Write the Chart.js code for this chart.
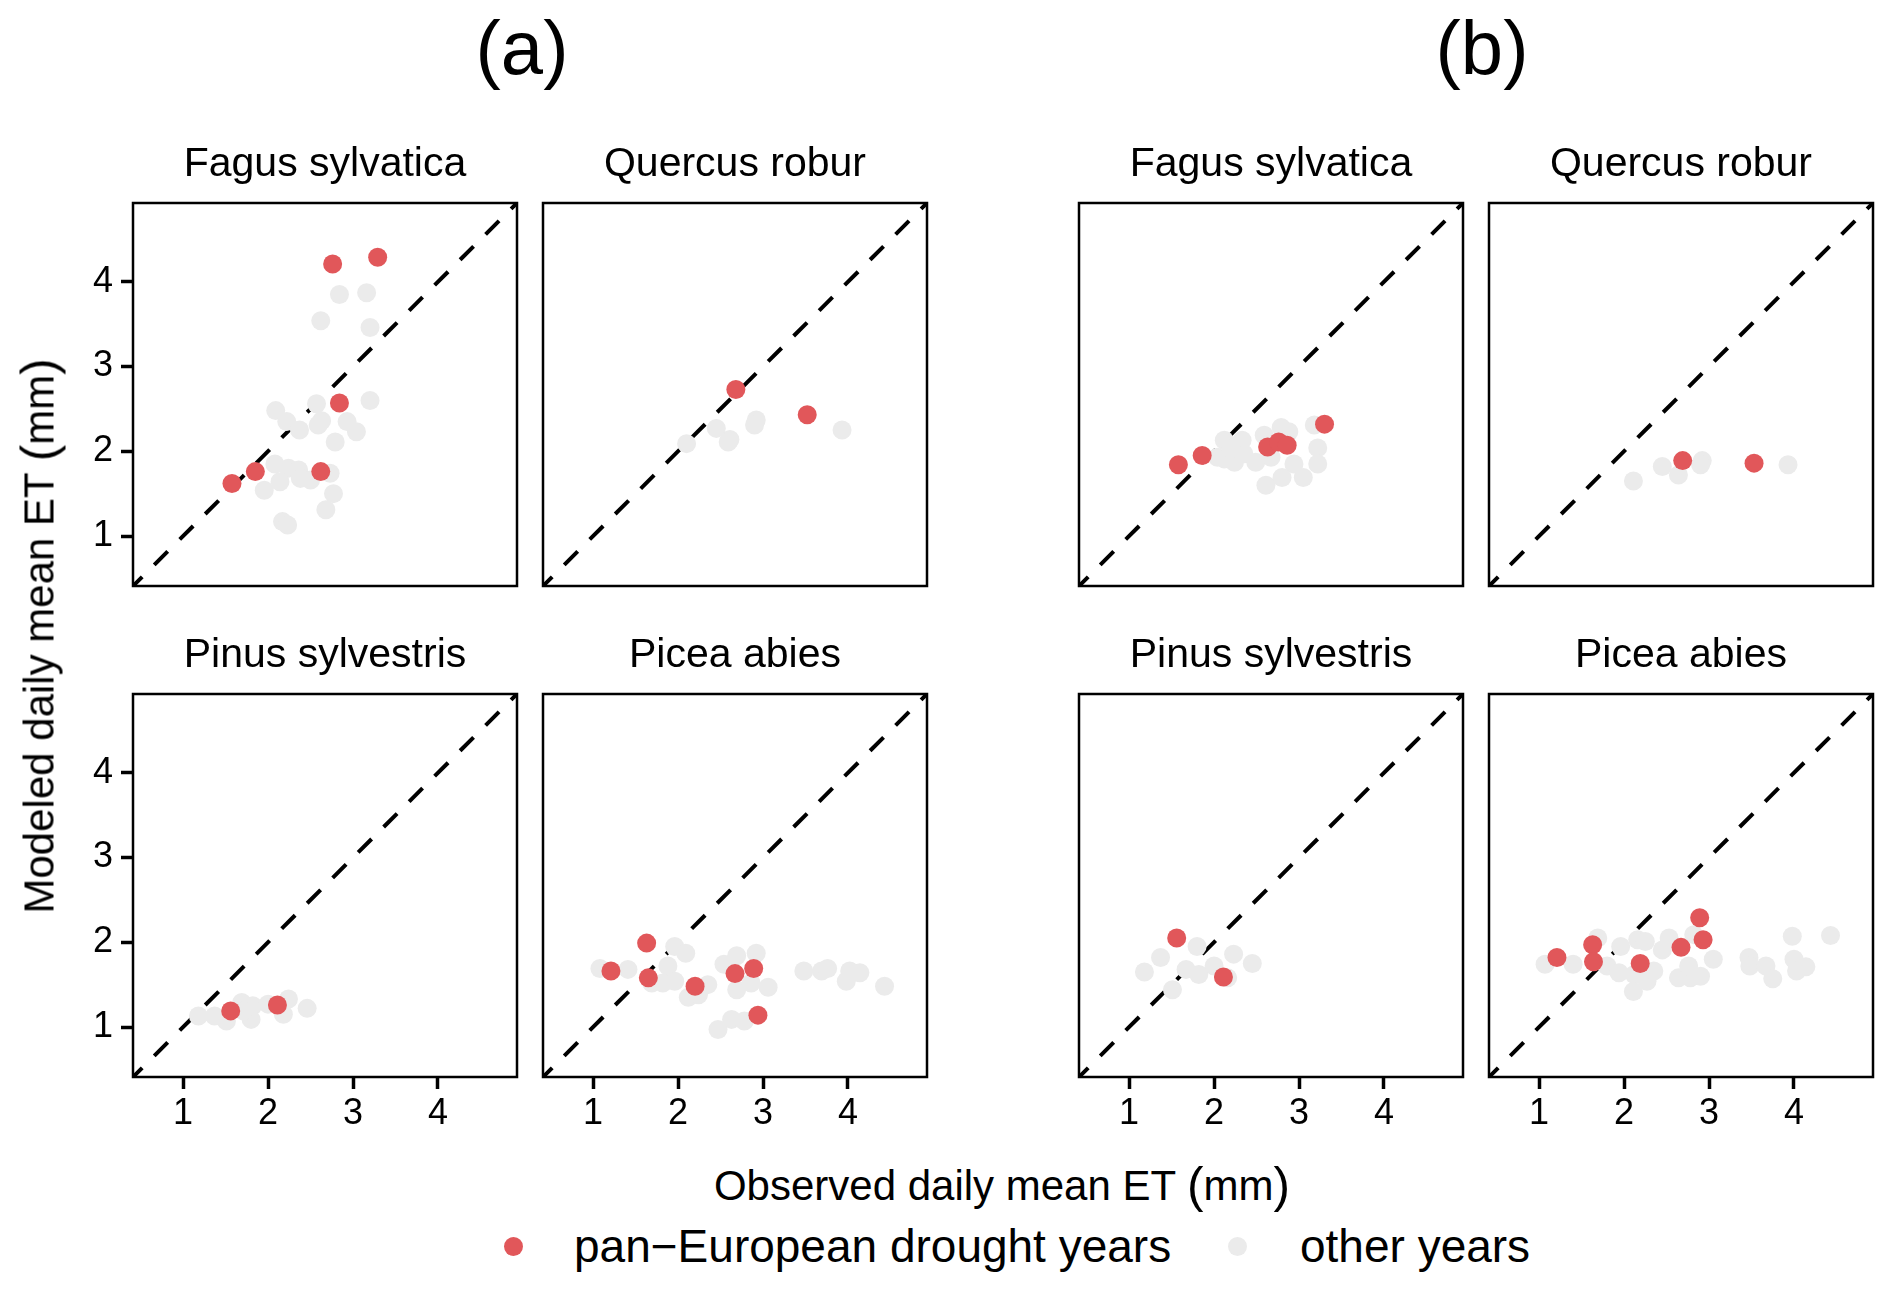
<!DOCTYPE html>
<html><head><meta charset="utf-8">
<script src="https://cdn.jsdelivr.net/npm/chart.js@4.4.1/dist/chart.umd.min.js"></script>
<style>
html,body{margin:0;padding:0;background:#fff;}
body{width:1892px;height:1293px;position:relative;overflow:hidden;font-family:"Liberation Sans",Arial,Helvetica,sans-serif;color:#000;}
canvas{position:absolute;}
.t{position:absolute;white-space:nowrap;}
.par{font-size:1.18em;position:relative;top:0.04em;}
.dot{position:absolute;border-radius:50%;}
</style></head><body>
<script>
// ---------- labels ----------
const groupLabels = ["(a)", "(b)"];
const speciesNames = ["Fagus sylvatica", "Quercus robur", "Pinus sylvestris", "Picea abies"];
const tickValues = [1, 2, 3, 4];
const xTitle = "Observed daily mean ET";
const yTitle = "Modeled daily mean ET";
const unitText = "mm";
const legendLabels = ["pan\u2212European drought years", "other years"];
const axisRange = [0.41, 4.93];

// ---------- data: (a) ----------
const aFagusDroughtObs = [1.575, 1.85, 2.62, 2.84, 2.76, 3.29];
const aFagusDroughtMod = [1.62, 1.76, 1.76, 2.57, 4.21, 4.29];
const aFagusOtherObs = [2.84, 3.16, 2.62, 3.20, 3.20, 2.57, 2.09, 2.22, 2.37, 2.63, 2.59, 2.93, 3.04, 2.79, 2.08, 2.24, 2.36, 2.38, 2.50, 2.14, 2.73, 1.955, 2.77, 2.68, 2.17, 2.23];
const aFagusOtherMod = [3.85, 3.87, 3.54, 3.46, 2.60, 2.56, 2.48, 2.35, 2.25, 2.36, 2.31, 2.35, 2.23, 2.11, 1.85, 1.80, 1.78, 1.68, 1.66, 1.64, 1.74, 1.54, 1.50, 1.31, 1.17, 1.13];

const aQuercusDroughtObs = [2.68, 3.52];
const aQuercusDroughtMod = [2.73, 2.43];
const aQuercusOtherObs = [2.10, 2.45, 2.61, 2.59, 2.92, 2.90, 3.93];
const aQuercusOtherMod = [2.09, 2.27, 2.14, 2.11, 2.37, 2.31, 2.25];

const aPinusDroughtObs = [1.56, 2.11];
const aPinusDroughtMod = [1.19, 1.26];
const aPinusOtherObs = [1.18, 1.37, 1.51, 1.69, 1.82, 1.80, 2.00, 2.24, 2.18, 2.46, 1.71];
const aPinusOtherMod = [1.13, 1.13, 1.07, 1.29, 1.25, 1.09, 1.27, 1.33, 1.15, 1.22, 1.19];

const aPiceaDroughtObs = [1.63, 1.21, 1.65, 2.20, 2.67, 2.89, 2.94];
const aPiceaDroughtMod = [1.99, 1.66, 1.58, 1.48, 1.63, 1.69, 1.14];
const aPiceaOtherObs = [1.08, 1.41, 1.96, 2.09, 1.88, 1.82, 1.96, 1.69, 2.12, 2.24, 2.35, 2.54, 2.69, 2.92, 2.69, 2.86, 3.06, 2.47, 2.63, 2.78, 3.48, 3.69, 3.76, 4.02, 4.14, 3.98, 4.43];
const aPiceaOtherMod = [1.69, 1.68, 1.95, 1.87, 1.72, 1.52, 1.54, 1.52, 1.35, 1.38, 1.50, 1.74, 1.84, 1.87, 1.44, 1.52, 1.47, 0.97, 1.09, 1.07, 1.66, 1.66, 1.69, 1.66, 1.64, 1.54, 1.48];

// ---------- data: (b) ----------
const bFagusDroughtObs = [1.58, 1.86, 2.63, 2.76, 2.86, 3.30];
const bFagusDroughtMod = [1.84, 1.95, 2.05, 2.11, 2.07, 2.32];
const bFagusOtherObs = [2.12, 2.33, 2.12, 2.24, 2.04, 2.49, 2.59, 2.67, 2.79, 2.88, 3.18, 3.22, 3.22, 2.94, 2.61, 2.80, 3.05, 2.35, 2.20];
const bFagusOtherMod = [2.13, 2.13, 1.91, 1.87, 1.93, 1.87, 2.19, 1.93, 2.28, 2.23, 2.31, 2.04, 1.85, 1.85, 1.60, 1.69, 1.69, 1.97, 2.03];

const bQuercusDroughtObs = [2.69, 3.53];
const bQuercusDroughtMod = [1.89, 1.86];
const bQuercusOtherObs = [2.11, 2.45, 2.64, 2.92, 2.90, 3.93];
const bQuercusOtherMod = [1.65, 1.82, 1.72, 1.89, 1.84, 1.84];

const bPinusDroughtObs = [1.56, 2.11];
const bPinusDroughtMod = [2.05, 1.59];
const bPinusOtherObs = [1.80, 1.37, 1.18, 1.67, 1.82, 1.51, 2.00, 2.23, 2.45, 2.16];
const bPinusOtherMod = [1.95, 1.82, 1.65, 1.68, 1.62, 1.44, 1.72, 1.86, 1.75, 1.58];

const bPiceaDroughtObs = [1.21, 1.63, 1.64, 2.19, 2.67, 2.89, 2.93];
const bPiceaDroughtMod = [1.82, 1.97, 1.77, 1.75, 1.94, 2.29, 2.03];
const bPiceaOtherObs = [1.07, 1.40, 1.69, 1.96, 2.16, 2.25, 1.80, 1.94, 2.12, 2.27, 2.11, 2.35, 2.45, 2.53, 2.82, 2.64, 2.78, 2.90, 2.76, 3.05, 3.47, 3.48, 3.67, 3.75, 3.98, 4.43, 4.00, 4.14, 4.03];
const bPiceaOtherMod = [1.74, 1.74, 2.05, 1.95, 2.03, 2.01, 1.72, 1.64, 1.62, 1.54, 1.42, 1.66, 1.91, 2.05, 2.09, 1.58, 1.58, 1.60, 1.72, 1.80, 1.82, 1.72, 1.72, 1.57, 2.07, 2.08, 1.80, 1.71, 1.66];

// ---------- layout / style ----------
const RED = "#E1575A", GREY = "#EBEBEB";
const colLeft = [133, 543, 1079, 1489];
const rowTop = [203, 694];
const PW = 384, PH = 383;
const AXW = 90, AXH = 70, PADT = 34, PADR = 34;
const FONT = '"Liberation Sans", Arial, Helvetica, sans-serif';

function pts(xs, ys) { return xs.map((x, i) => ({ x: x, y: ys[i] })); }

const panels = [
  { g: 0, s: 0, col: 0, row: 0, d: [aFagusDroughtObs, aFagusDroughtMod], o: [aFagusOtherObs, aFagusOtherMod] },
  { g: 0, s: 1, col: 1, row: 0, d: [aQuercusDroughtObs, aQuercusDroughtMod], o: [aQuercusOtherObs, aQuercusOtherMod] },
  { g: 0, s: 2, col: 0, row: 1, d: [aPinusDroughtObs, aPinusDroughtMod], o: [aPinusOtherObs, aPinusOtherMod] },
  { g: 0, s: 3, col: 1, row: 1, d: [aPiceaDroughtObs, aPiceaDroughtMod], o: [aPiceaOtherObs, aPiceaOtherMod] },
  { g: 1, s: 0, col: 2, row: 0, d: [bFagusDroughtObs, bFagusDroughtMod], o: [bFagusOtherObs, bFagusOtherMod] },
  { g: 1, s: 1, col: 3, row: 0, d: [bQuercusDroughtObs, bQuercusDroughtMod], o: [bQuercusOtherObs, bQuercusOtherMod] },
  { g: 1, s: 2, col: 2, row: 1, d: [bPinusDroughtObs, bPinusDroughtMod], o: [bPinusOtherObs, bPinusOtherMod] },
  { g: 1, s: 3, col: 3, row: 1, d: [bPiceaDroughtObs, bPiceaDroughtMod], o: [bPiceaOtherObs, bPiceaOtherMod] }
];

const framePlugin = {
  id: 'frame',
  afterDatasetsDraw(chart) {
    const a = chart.chartArea, c = chart.ctx;
    c.save();
    c.strokeStyle = '#000';
    c.lineWidth = 2.5;
    c.strokeRect(a.left, a.top, a.right - a.left, a.bottom - a.top);
    c.restore();
  }
};

function text(str, cx, baseline, fs, opts) {
  const d = document.createElement('div');
  d.className = 't';
  d.style.fontSize = fs + 'px';
  d.style.lineHeight = fs + 'px';
  d.style.top = (baseline - 0.8465 * fs) + 'px';
  d.style.left = cx + 'px';
  if (!(opts && opts.left)) d.style.transform = 'translateX(-50%)';
  if (opts && opts.html) d.innerHTML = str; else d.textContent = str;
  document.body.appendChild(d);
  return d;
}

panels.forEach(p => {
  const showY = p.col === 0;
  const showX = p.row === 1;
  const cv = document.createElement('canvas');
  const W = AXW + PW + PADR, H = PADT + PH + AXH;
  cv.width = W; cv.height = H;
  cv.style.width = W + 'px'; cv.style.height = H + 'px';
  cv.style.left = (colLeft[p.col] - AXW) + 'px';
  cv.style.top = (rowTop[p.row] - PADT) + 'px';
  document.body.appendChild(cv);

  const scaleCommon = (isX, show) => ({
    type: 'linear',
    min: axisRange[0], max: axisRange[1],
    afterBuildTicks: sc => { sc.ticks = tickValues.map(v => ({ value: v })); },
    afterFit: sc => { if (isX) sc.height = AXH; else sc.width = AXW; },
    grid: { drawOnChartArea: false, drawTicks: show, tickLength: 12, tickWidth: 3.5, tickColor: '#000', color: '#000' },
    border: { display: false },
    ticks: {
      display: show, color: '#000', padding: isX ? 3 : 8,
      font: { family: FONT, size: 36 },
      callback: v => String(v), maxRotation: 0, autoSkip: false
    }
  });

  new Chart(cv, {
    type: 'scatter',
    data: {
      datasets: [
        { label: 'line', data: [{ x: axisRange[0], y: axisRange[0] }, { x: axisRange[1], y: axisRange[1] }],
          showLine: true, borderColor: '#000', borderWidth: 4, borderDash: [19, 17], borderDashOffset: 6,
          pointRadius: 0, order: 3 },
        { label: legendLabels[1], data: pts(p.o[0], p.o[1]), backgroundColor: GREY, borderColor: GREY,
          borderWidth: 0, pointRadius: 9.5, order: 2 },
        { label: legendLabels[0], data: pts(p.d[0], p.d[1]), backgroundColor: RED, borderColor: RED,
          borderWidth: 0, pointRadius: 9.5, order: 1 }
      ]
    },
    options: {
      responsive: false, animation: false, devicePixelRatio: 1,
      layout: { padding: { top: PADT, right: PADR, left: 0, bottom: 0 } },
      plugins: { legend: { display: false }, tooltip: { enabled: false } },
      events: [],
      scales: { x: scaleCommon(true, showX), y: scaleCommon(false, showY) }
    },
    plugins: [framePlugin]
  });

  // strip label
  const cx = colLeft[p.col] + PW / 2;
  text(speciesNames[p.s], cx, rowTop[p.row] - 26, 41);
});

// group titles
text(groupLabels[0], 522, 74, 76);
text(groupLabels[1], 1482, 74, 76);

// axis titles
const unitHtml = ' <span class="par">(</span>' + unitText + '<span class="par">)</span>';
text(xTitle + unitHtml, 1002, 1198, 42, { html: true });
const yt = document.createElement('div');
yt.className = 't';
yt.style.fontSize = '42px';
yt.style.lineHeight = '42px';
yt.innerHTML = yTitle + unitHtml;
yt.style.left = '38px';
yt.style.top = '636px';
yt.style.transform = 'translate(-50%, -50%) rotate(-90deg)';
document.body.appendChild(yt);

// legend
function legendDot(cx, cy, color) {
  const d = document.createElement('div');
  d.className = 'dot';
  d.style.width = '19px'; d.style.height = '19px';
  d.style.left = (cx - 9.5) + 'px'; d.style.top = (cy - 9.5) + 'px';
  d.style.background = color;
  document.body.appendChild(d);
}
legendDot(513, 1246, RED);
text(legendLabels[0], 574, 1262, 46, { left: true });
legendDot(1237, 1246, GREY);
text(legendLabels[1], 1300, 1262, 46, { left: true });
</script>
</body></html>
